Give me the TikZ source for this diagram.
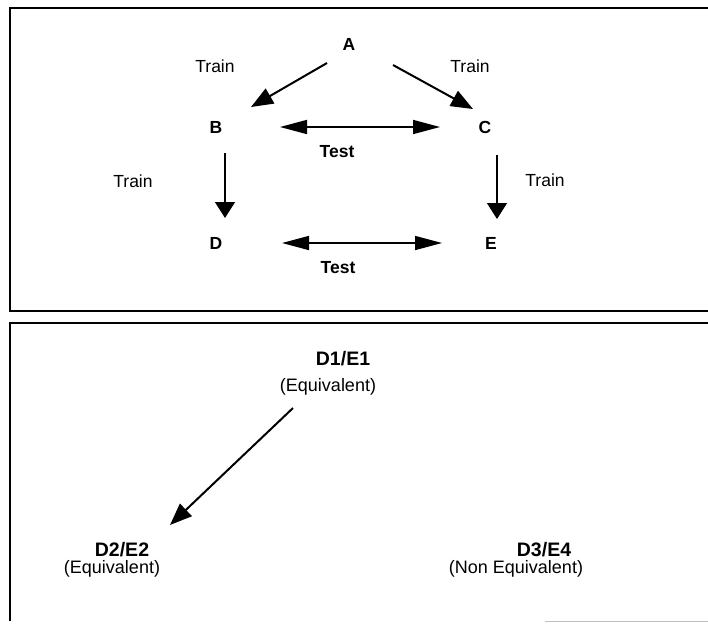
\documentclass[tikz,border=0pt]{standalone}
\usepackage{fontspec}
\setmainfont{Liberation Sans}
\usetikzlibrary{arrows.meta}
\tikzset{
  lbl/.style={inner sep=0pt, font=\fontsize{17.5}{20}\selectfont},
  blbl/.style={inner sep=0pt, font=\fontsize{17.5}{20}\selectfont\bfseries},
  big/.style={inner sep=0pt, font=\fontsize{19.5}{22}\selectfont\bfseries},
  sub/.style={inner sep=0pt, font=\fontsize{18}{21}\selectfont},
  frame/.style={line width=1.5pt},
  diag/.style={line width=2pt, -{Triangle[length=22pt,width=17pt]}},
  vert/.style={line width=1.4pt, -{Triangle[length=16pt,width=20pt]}},
  testarr/.style={line width=1.6pt, {Triangle[length=27pt,width=14pt]}-{Triangle[length=27pt,width=14pt]}},
}
\begin{document}
\begin{tikzpicture}[x=1pt,y=-1pt]
\useasboundingbox (0,0) rectangle (708,625);
\clip (0,0) rectangle (708,625);
% frames
\draw[frame] (10,8) rectangle (720,311);
\draw[frame] (10,621) -- (10,323) -- (720,323);
\draw[gray!50, line width=0.8pt] (545,621) -- (708,621);

% top panel nodes
\node[blbl] (A) at (349,44) {A};
\node[blbl] (B) at (216,127) {B};
\node[blbl] (C) at (485,127) {C};
\node[blbl] (D) at (216,243) {D};
\node[blbl] (E) at (491,243) {E};
\node[lbl] (t1) at (215,66) {Train};
\node[lbl] (t2) at (470,66) {Train};
\node[lbl] (t3) at (133,181) {Train};
\node[lbl] (t4) at (545,180) {Train};
\node[blbl] (s1) at (337,152) {Test};
\node[blbl] (s2) at (338,268) {Test};

% top panel arrows
\draw[diag] ([shift={(-22,19)}]A.center) -- ([shift={(35,-20)}]B.center);
\draw[diag] ([shift={(44,21)}]A.center) -- ([shift={(-12,-18)}]C.center);
\draw[testarr] ([shift={(64,0)}]B.center) -- ([shift={(-45,0)}]C.center);
\draw[testarr] ([shift={(66,0)}]D.center) -- ([shift={(-49,0)}]E.center);
\draw[vert] ([shift={(9,26)}]B.center) -- ([shift={(9,-25)}]D.center);
\draw[vert] ([shift={(12,28)}]C.center) -- ([shift={(6,-24)}]E.center);

% bottom panel nodes
\node[big] (d1) at (343,359) {D1/E1};
\node[sub] (e1) at (328,387) {(Equivalent)};
\node[big] (d2) at (122,550) {D2/E2};
\node[sub] (e2) at (112,569) {(Equivalent)};
\node[big] (d3) at (544,550) {D3/E4};
\node[sub] (e3) at (516,569) {(Non Equivalent)};

% bottom arrow
\draw[diag] ([shift={(-35,21)}]e1.center) -- ([shift={(48,-25)}]d2.center);
\end{tikzpicture}
\end{document}
